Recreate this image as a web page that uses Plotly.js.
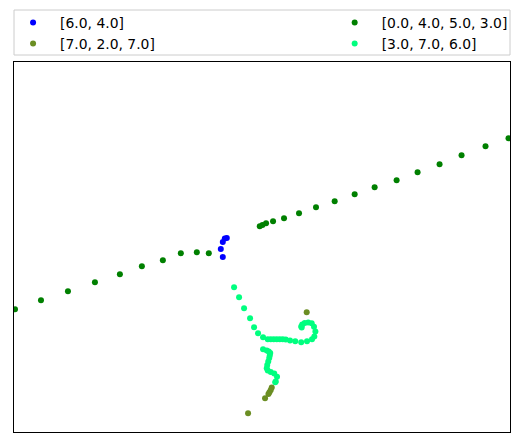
<!DOCTYPE html>
<html>
<head>
<meta charset="utf-8">
<script src="https://cdn.plot.ly/plotly-3.0.1.min.js"></script>
<style>
  html, body { margin: 0; padding: 0; background: #fff; }
  #chart { width: 523px; height: 446px; }
</style>
</head>
<body>
<div id="chart"></div>
<script>
// series (arbitrary units, x 0..496, y 0..370)
const blueX = [213, 211, 209, 207, 209];
const blueY = [194, 193.5, 190, 183, 175];

const greenX = [1, 27, 54, 81, 106, 128, 149, 167, 183, 195, 246, 248.7, 252.3, 259.3, 270.3, 285.3, 302.3, 321, 341, 361, 383, 404, 426, 448, 472, 495];
const greenY = [122.7, 131.7, 140.7, 149.7, 157.7, 165.7, 171.7, 178.7, 179.7, 178.7, 205.7, 207, 208.7, 210.7, 213.7, 218.7, 224.7, 230.7, 237.7, 244.7, 251.7, 259.7, 267.7, 276.7, 285.7, 293.7];

const oliveX = [293, 258, 257, 255.7, 254.7, 251.3, 234.3];
const oliveY = [119.7, 44.5, 42, 39.7, 38, 33.7, 18.7];

const springX = [220.3, 225.3, 230.3, 236.3, 240.3, 244.3, 249.3, 254, 257, 260, 263, 266, 269, 272, 276.3, 281.5, 287.5, 293.3, 298.3, 300.6, 301.7, 300.3, 298, 294.5, 291, 288.5, 287.5, 288,
                 249.3, 253, 255, 256.5, 256, 255.5, 254.5, 253.5, 253, 254, 257, 260.5, 263.3, 261.5, 262];
const springY = [144.7, 134.7, 123.7, 113.7, 104.7, 98.7, 94.7, 92.7, 92.7, 92.7, 92.7, 92.7, 92.7, 92.5, 91.5, 90.7, 89.7, 90.7, 92.7, 95.5, 100.5, 105.3, 108.7, 109.5, 109, 107.5, 105.5, 104.5,
                 82.8, 81.5, 80.5, 79, 76.5, 74, 70.5, 67, 63.7, 61.5, 60, 58.5, 55.3, 49.7, 50.5];

const names = ['[6.0, 4.0]', '[7.0, 2.0, 7.0]', '[0.0, 4.0, 5.0, 3.0]', '[3.0, 7.0, 6.0]'];
const colors = ['#0000ff', '#6b8e23', '#008000', '#00ff7f'];

const FONT = 'DejaVu Sans, sans-serif';

function pts(x, y, i, legend) {
  return {
    x: x, y: y, name: names[i], type: 'scatter', mode: 'markers',
    marker: { color: colors[i], size: 6 },
    legend: legend, hoverinfo: 'skip',
  };
}

const traces = [
  pts(greenX, greenY, 2, 'legend2'),
  pts(springX, springY, 3, 'legend2'),
  pts(oliveX, oliveY, 1, 'legend'),
  pts(blueX, blueY, 0, 'legend'),
];

const axis = {
  showline: true, linecolor: '#000', linewidth: 1, mirror: true,
  showgrid: false, zeroline: false, showticklabels: false, ticks: '',
};

// two legends side by side, one box drawn round both (matplotlib ncol=2 look)
const leg = {
  orientation: 'v', yanchor: 'top', xanchor: 'left',
  bgcolor: 'rgba(0,0,0,0)', borderwidth: 0, itemwidth: 44,
  font: { family: FONT, size: 13.9, color: '#000' },
  traceorder: 'normal',
};

const layout = {
  width: 523, height: 446,
  margin: { l: 14, r: 12.5, t: 62, b: 14, autoexpand: false },
  paper_bgcolor: '#fff', plot_bgcolor: '#fff',
  font: { family: FONT },
  showlegend: true,
  xaxis: { ...axis, range: [0, 496.5] },
  yaxis: { ...axis, range: [0, 370] },
  legend: { ...leg, x: -0.016, y: 1.149 },
  legend2: { ...leg, x: 0.6324, y: 1.149 },
  shapes: [{
    type: 'rect', xref: 'paper', yref: 'paper',
    x0: 0, x1: 1, y0: 1.0189, y1: 1.1405,
    line: { color: '#cccccc', width: 1 }, fillcolor: 'rgba(255,255,255,0.8)', layer: 'below',
  }],
};

Plotly.newPlot('chart', [traces[3], traces[2], traces[0], traces[1]], layout, { displayModeBar: false, staticPlot: true });
</script>
</body>
</html>
